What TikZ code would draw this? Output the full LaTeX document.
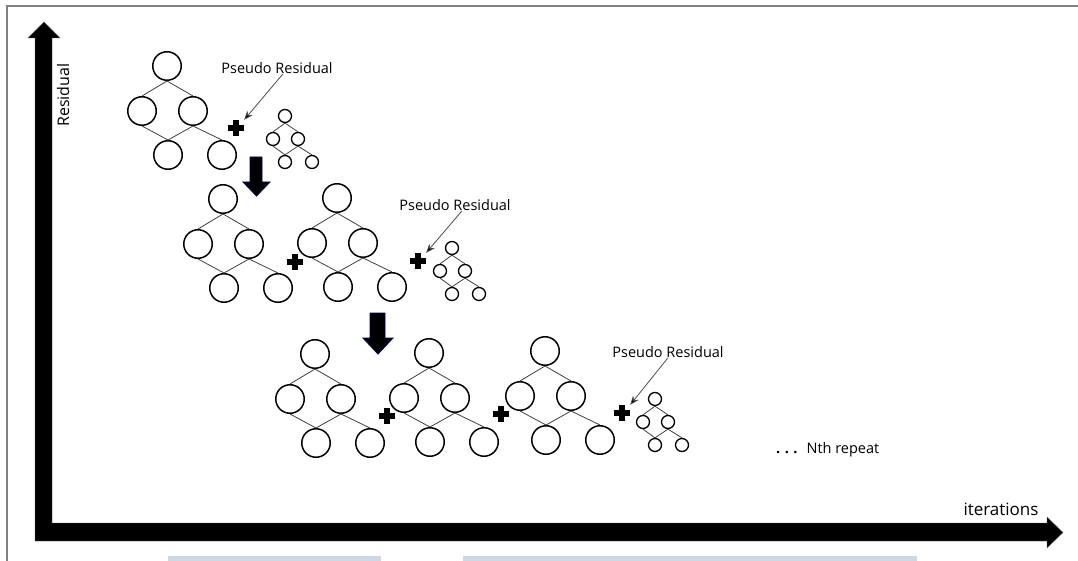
\documentclass[tikz,border=0pt]{standalone}
\usepackage{fontspec}
\setmainfont{Open Sans}
\usetikzlibrary{arrows.meta}
\tikzset{
  bigc/.style={circle,draw=black,line width=1.5pt,minimum size=28.5pt,inner sep=0pt,fill=white},
  smallc/.style={circle,draw=black,line width=1.3pt,minimum size=13pt,inner sep=0pt,fill=white},
  treeln/.style={draw=black!75,line width=0.8pt},
  lbl/.style={font=\fontsize{14.5}{16}\selectfont,inner sep=0pt},
  prarrow/.style={draw=black!70,line width=0.8pt,-{Stealth[length=9pt,width=7pt,fill=black]}},
  downarrow/.style={fill=black,draw=blue!35!black,line width=0.9pt,line join=miter},
  crossfill/.style={fill=black},
  plusspot/.style={inner sep=0pt,minimum size=16pt},
  axisfill/.style={fill=black,draw=black!60,line width=0.4pt},
  frameln/.style={draw=black!50,line width=1.8pt},
  bluebar/.style={fill={rgb,255:red,204;green,217;blue,228}}
}
\newcommand\bigtree[3]{%
  \node[bigc] (#1-r) at (#2,#3) {};
  \node[bigc] (#1-l) at ({#2-25},{#3+45}) {};
  \node[bigc] (#1-rr) at ({#2+26},{#3+45}) {};
  \node[bigc] (#1-b) at ({#2+1},{#3+89}) {};
  \node[bigc] (#1-bb) at ({#2+55},{#3+89}) {};
  \draw[treeln] (#1-r.south) -- (#1-l.north);
  \draw[treeln] (#1-r.south) -- (#1-rr.north);
  \draw[treeln] (#1-l.south) -- (#1-b.north);
  \draw[treeln] (#1-rr.south) -- (#1-b.north);
  \draw[treeln] (#1-rr.south) -- (#1-bb.north);
}
\newcommand\smalltree[3]{%
  \node[smallc] (#1-r) at (#2,#3) {};
  \node[smallc] (#1-l) at ({#2-12},{#3+23}) {};
  \node[smallc] (#1-rr) at ({#2+13},{#3+23}) {};
  \node[smallc] (#1-b) at ({#2},{#3+46}) {};
  \node[smallc] (#1-bb) at ({#2+27},{#3+46}) {};
  \draw[treeln] (#1-r.south) -- (#1-l.north);
  \draw[treeln] (#1-r.south) -- (#1-rr.north);
  \draw[treeln] (#1-l.south) -- (#1-b.north);
  \draw[treeln] (#1-rr.south) -- (#1-b.north);
  \draw[treeln] (#1-rr.south) -- (#1-bb.north);
}
\newcommand\plusmark[3]{%
  \node[plusspot] (#1) at (#2,#3) {};
  \fill[crossfill] ({#2-8},{#3-3.2}) rectangle ({#2+8},{#3+3.2});
  \fill[crossfill] ({#2-3.2},{#3-8}) rectangle ({#2+3.2},{#3+8});
}
\newcommand\downblock[7]{% xl xr shaftl shaftr ytop yhead ybottom
  \draw[downarrow] (#3,#5) -- (#4,#5) -- (#4,#6) -- (#2,#6) -- ({(#1+#2)/2},#7) -- (#1,#6) -- (#3,#6) -- cycle;
}
\begin{document}
\begin{tikzpicture}[x=1pt,y=-1pt]
  \useasboundingbox (0,0) rectangle (1078,561);
  % frame
  \draw[frameln] (7,561) -- (7,6) -- (1078,6);
  % faint bars
  \fill[bluebar] (168,556) rectangle (381,561);
  \fill[bluebar] (463,556) rectangle (917,561);
  % axes
  \filldraw[axisfill] (35,38) -- (28,38) -- (44,22) -- (60,38) -- (52,38) -- (52,523)
    -- (1047,523) -- (1047,517) -- (1063,532.5) -- (1047,548) -- (1047,541) -- (35,541) -- cycle;
  \node[font=\fontsize{16}{18}\selectfont,rotate=90,inner sep=0pt] (ylab) at (63,95) {Residual};
  \node[font=\fontsize{17}{19}\selectfont,inner sep=0pt] (xlab) at (1001,509) {iterations};

  % row 1
  \bigtree{ta}{167}{66}
  \smalltree{sa}{285}{116}
  \plusmark{pa}{236}{128}
  \node[lbl] (pra) at (277,68) {Pseudo Residual};
  \draw[prarrow] ([xshift=6pt]pra.south) -- (pa.north east);
  \downblock{243}{270}{250}{262}{157}{182}{196}

  % row 2
  \bigtree{tb}{223}{199}
  \plusmark{pb}{295}{262}
  \bigtree{tc}{337}{198}
  \plusmark{pc}{418}{261}
  \smalltree{sb}{452}{248}
  \node[lbl] (prb) at (455,205) {Pseudo Residual};
  \draw[prarrow] ([xshift=7pt]prb.south) -- (pc.north east);
  \downblock{363}{393}{370}{385}{313}{338}{354}

  % row 3
  \bigtree{td}{315}{354}
  \plusmark{pd}{387}{416}
  \bigtree{te}{429}{353}
  \plusmark{pe}{501}{414}
  \bigtree{tf}{545}{351}
  \plusmark{pf}{622}{413}
  \smalltree{sc}{655}{399}
  \node[lbl] (prc) at (668,352) {Pseudo Residual};
  \draw[prarrow] (prc.south) -- (pf.north east);

  \node[lbl,anchor=west] (nth) at (776,450) {\textbf{.}\hspace{4.5pt}\textbf{.}\hspace{4.5pt}\textbf{.}\hspace{9pt}Nth repeat};
\end{tikzpicture}
\end{document}
